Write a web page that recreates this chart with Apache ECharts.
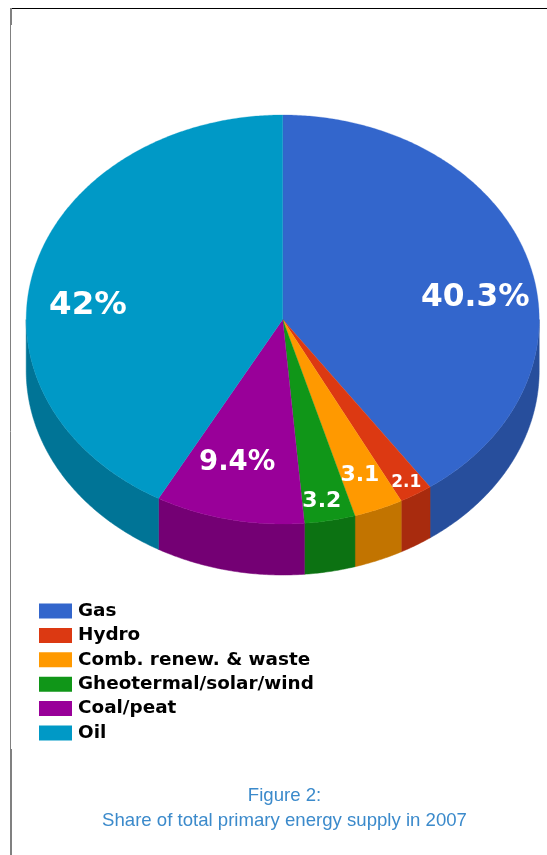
<!DOCTYPE html>
<html><head><meta charset="utf-8">
<style>html,body{margin:0;padding:0;background:#fff}#c{width:547px;height:855px}</style>
<script src="https://cdn.jsdelivr.net/npm/echarts@6/dist/echarts.min.js"></script>
</head><body><div id="c"></div>
<script>
const categories = ['Gas','Hydro','Comb. renew. & waste','Gheotermal/solar/wind','Coal/peat','Oil'];
const shares = [40.3,2.1,3.1,3.2,9.4,42];
const sliceLabels = ['40.3%','2.1','3.1','3.2','9.4%','42%'];
const topColors = ['#3366cc','#dc3912','#ff9900','#109618','#990099','#0099c6'];
const wallColors = ['#274e9c','#a82b0e','#c27400','#0c7212','#740074','#007496'];
const labelSizes = [31.3,17,22,22,27.5,32.5];
const labelTurn = [8.2,-0.4,-0.1,0.7,2.5,-8.1];
const labelReach = [0.761,0.917,0.802,0.887,0.707,0.764];

const CX=282.7, CY=319.5, RX=256.5, RY=204.5, DEPTH=51, LABEL_DROP=3.5;
const total = shares.reduce((a,b)=>a+b,0);
const pt=(deg,r=1,dy=0)=>{const t=deg*Math.PI/180;return [CX+RX*r*Math.sin(t),CY-RY*r*Math.cos(t)+dy];};
function arc(a,b,dy){const out=[];const n=Math.max(2,Math.ceil((b-a)/0.5));for(let i=0;i<=n;i++)out.push(pt(a+(b-a)*i/n,1,dy));return out;}

const series = categories.map((name,i)=>({
  name, type:'custom', coordinateSystem:'none', z:2,
  itemStyle:{color:topColors[i]},
  data:[[shares[i]]],
  renderItem(params,api){
    const before=shares.slice(0,i).reduce((a,b)=>a+b,0);
    const a=before/total*360, b=a+api.value(0)/total*360;
    const children=[];
    const wa=Math.max(a,90), wb=Math.min(b,270);
    if(wb>wa){
      const upper=arc(wa,wb,0), lower=arc(wa,wb,DEPTH).reverse();
      children.push({type:'polygon',shape:{points:upper.concat(lower)},style:{fill:wallColors[i],stroke:wallColors[i],lineWidth:0.5}});
    }
    children.push({type:'polygon',shape:{points:[[CX,CY]].concat(arc(a,b,0))},style:{fill:topColors[i],stroke:topColors[i],lineWidth:0.3}});
    const p=pt((a+b)/2+labelTurn[i],labelReach[i],LABEL_DROP);
    children.push({type:'text',z2:10,style:{x:p[0],y:p[1],text:sliceLabels[i],fill:'#fff',align:'center',verticalAlign:'middle',font:'bold '+labelSizes[i]+'px "DejaVu Sans"'}});
    return {type:'group',children};
  }
}));

const chart=echarts.init(document.getElementById('c'),null,{renderer:'canvas'});
chart.setOption({
  animation:false, backgroundColor:'#fff',
  title:{text:'Figure 2:\nShare of total primary energy supply in 2007',left:279.5,top:778,textAlign:'center',padding:5,
    textStyle:{color:'#3b8acb',fontFamily:'Liberation Sans',fontWeight:'normal',fontSize:18.6,lineHeight:25}},
  legend:{orient:'vertical',left:39,top:602,padding:0,icon:'rect',itemWidth:33,itemHeight:15,itemGap:6.4,itemStyle:{borderWidth:0},
    selectedMode:false,data:categories,
    textStyle:{color:'#000',fontFamily:'DejaVu Sans',fontWeight:'bold',fontSize:18.4,lineHeight:15,padding:[0,0,0,1]}},
  graphic:[
    {type:'line',shape:{x1:11,y1:8.5,x2:547,y2:8.5},style:{stroke:'#000',lineWidth:1}},
    {type:'line',shape:{x1:10.5,y1:8,x2:10.5,y2:855},style:{stroke:'#808080',lineWidth:1}},
    {type:'line',shape:{x1:11,y1:8,x2:11,y2:25},style:{stroke:'#808080',lineWidth:2}},
    {type:'line',shape:{x1:11,y1:749,x2:11,y2:855},style:{stroke:'#808080',lineWidth:2}}
  ],
  series
});
</script></body></html>
